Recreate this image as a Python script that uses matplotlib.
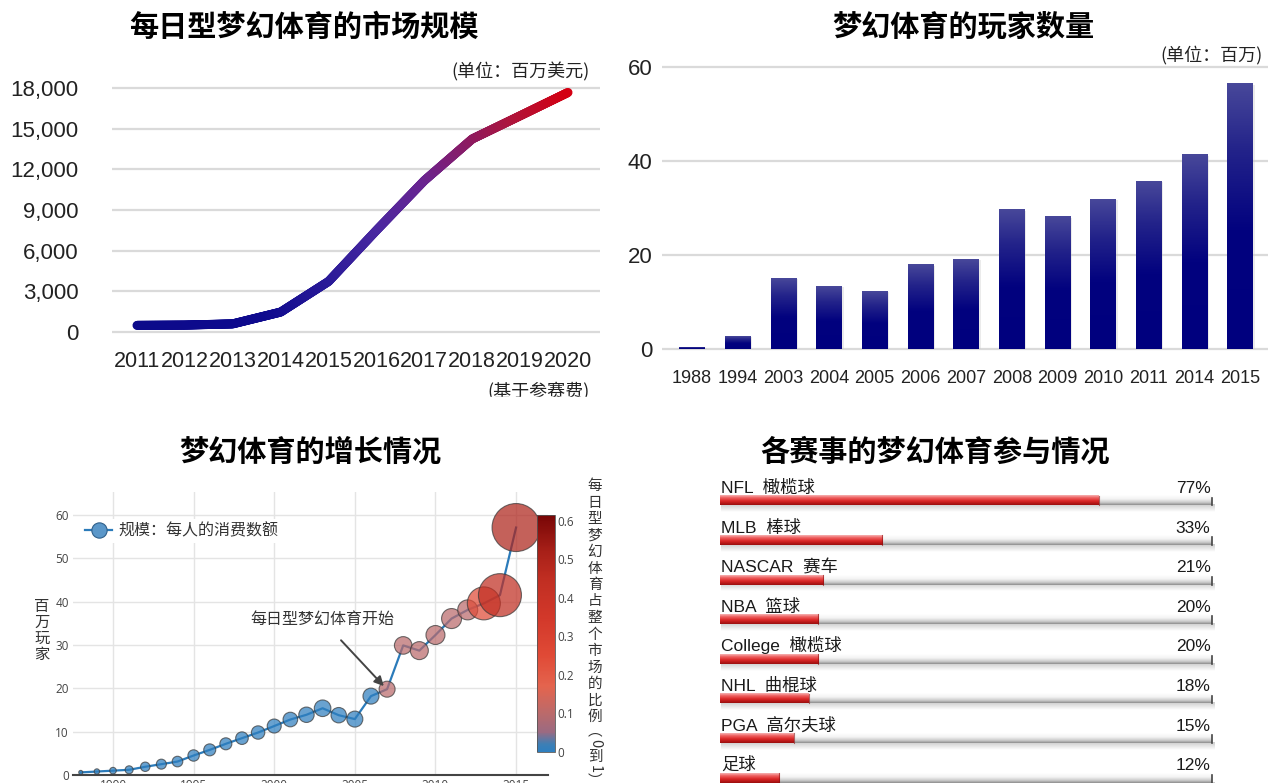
import numpy as np
import matplotlib
matplotlib.use('Agg')
import matplotlib.pyplot as plt
from matplotlib import font_manager as fm
from matplotlib.colors import LinearSegmentedColormap, Normalize
from matplotlib.collections import LineCollection
from matplotlib.lines import Line2D
from matplotlib.patches import Rectangle
import matplotlib.cm as cm

# ---------------- data ----------------
market_years = ['2011', '2012', '2013', '2014', '2015', '2016', '2017', '2018', '2019', '2020']
market_size = [490, 510, 600, 1470, 3730, 7500, 11170, 14240, 15950, 17670]

player_years = ['1988', '1994', '2003', '2004', '2005', '2006', '2007', '2008', '2009',
                '2010', '2011', '2014', '2015']
players = [0.4, 2.7, 15.1, 13.4, 12.3, 17.9, 19.1, 29.7, 28.1, 31.9, 35.7, 41.4, 56.4]

growth_years = list(range(1988, 2016))
growth_players = [0.6, 0.8, 1.0, 1.2, 1.9, 2.5, 3.1, 4.5, 5.8, 7.2, 8.5, 9.8, 11.3, 12.8,
                  13.9, 15.4, 13.8, 12.9, 18.2, 19.8, 29.9, 28.7, 32.3, 36.1, 38.1, 39.6,
                  41.5, 57.1]
growth_spend = [2.0, 2.7, 3.3, 4.0, 4.7, 5.0, 5.3, 5.7, 6.0, 6.0, 6.3, 6.7, 7.0, 7.3,
                7.7, 8.3, 7.7, 8.0, 8.0, 8.0, 8.8, 9.0, 9.5, 10.0, 10.0, 16.5, 21.5, 24.0]
growth_share = [0.0] * 19 + [0.1, 0.1, 0.1, 0.1, 0.1, 0.1, 0.25, 0.45, 0.5]

sport_labels = ['NFL  橄榄球', 'MLB  棒球', 'NASCAR  赛车', 'NBA  篮球', 'College  橄榄球',
                'NHL  曲棍球', 'PGA  高尔夫球', '足球']
sport_pct = [77, 33, 21, 20, 20, 18, 15, 12]

# ---------------- fonts ----------------
def has_font(name):
    try:
        fm.findfont(fm.FontProperties(family=name), fallback_to_default=False)
        return True
    except Exception:
        return False

CJK = 'Noto Sans CJK SC'
NARROW = 'Liberation Sans Narrow' if has_font('Liberation Sans Narrow') else 'Liberation Sans'
SANS = 'Liberation Sans'
OPEN = 'Open Sans' if has_font('Open Sans') else 'DejaVu Sans'
plt.rcParams['font.family'] = [CJK, 'DejaVu Sans']
plt.rcParams['axes.unicode_minus'] = False

W, H = 1275, 783
fig = plt.figure(figsize=(W / 100, H / 100), dpi=100)
fig.patch.set_facecolor('white')


def rect(x0, y0, x1, y1):
    return [x0 / W, 1 - y1 / H, (x1 - x0) / W, (y1 - y0) / H]


def fx(x):
    return x / W


def fy(y):
    return 1 - y / H


def set_tick_font(ax, fam):
    for lbl in ax.get_xticklabels() + ax.get_yticklabels():
        lbl.set_fontfamily(fam)


# ================= top-left: market size line =================
ax1 = fig.add_axes(rect(112, 80, 600, 340))
x1 = np.arange(len(market_years))
ax1.set_xlim(-25 / 47.9, 9 + 32 / 47.9)
ax1.set_ylim(-590, 18590)
ax1.set_yticks(range(0, 18001, 3000))
ax1.set_yticklabels([f'{v:,}' for v in range(0, 18001, 3000)])
ax1.set_xticks(x1)
ax1.set_xticklabels(market_years)
ax1.grid(axis='y', color='#dadada', lw=1.6)
ax1.set_axisbelow(True)
for s in ax1.spines.values():
    s.set_visible(False)
ax1.tick_params(axis='y', length=0, labelsize=16, pad=24, labelcolor='#222222')
ax1.tick_params(axis='x', length=0, labelsize=15.5, pad=8, labelcolor='#222222')
set_tick_font(ax1, [SANS, CJK])

line_cmap = LinearSegmentedColormap.from_list('ln', [
    (0.0, '#0c0a8a'), (0.3, '#0e0a8e'), (0.45, '#2a1a98'), (0.56, '#4a28a0'),
    (0.67, '#6a2490'), (0.78, '#8e1a60'), (0.88, '#b0143a'), (1.0, '#d40012')])
xs = np.linspace(0, len(market_years) - 1, 600)
ys = np.interp(xs, x1, market_size)
pts = np.column_stack([xs, ys])
segs = np.stack([pts[:-1], pts[1:]], axis=1)
lc = LineCollection(segs, colors=line_cmap(xs[:-1] / xs[-1]), linewidths=6.5,
                    capstyle='round', joinstyle='round', zorder=3)
ax1.add_collection(lc)

fig.text(fx(304), fy(27), '每日型梦幻体育的市场规模', ha='center', va='center',
         fontsize=21, fontweight='bold', family=[CJK])
fig.text(fx(590), fy(72), '(单位：百万美元)', ha='right', va='center', fontsize=13,
         family=[CJK], color='#222222')
fig.text(fx(590), fy(391), '(基于参赛费)', ha='right', va='center', fontsize=13,
         family=[CJK], color='#222222')
fig.patches.append(Rectangle((fx(400), fy(405)), fx(220), fy(397) - fy(405),
                             transform=fig.transFigure, color='white', zorder=10))

# ================= top-right: players bar =================
ax2 = fig.add_axes(rect(662, 60, 1268, 352))
x2 = np.arange(len(player_years))
bw = 0.56
bar_cmap = LinearSegmentedColormap.from_list('bar', [
    (0.0, '#00007e'), (0.45, '#02027f'), (0.75, '#23238a'), (1.0, '#48489a')])
grad = np.linspace(0, 1, 256).reshape(-1, 1)
for xi, v in zip(x2, players):
    ax2.add_patch(Rectangle((xi - bw / 2 + 0.04, 0), bw, v - 0.25, color='#c8c8c8',
                            alpha=0.35, lw=0, zorder=1.5))
    ax2.imshow(grad, extent=[xi - bw / 2, xi + bw / 2, 0, v], origin='lower',
               cmap=bar_cmap, aspect='auto', zorder=2, interpolation='bilinear')
ax2.set_xlim(-0.657, 12.61)
ax2.set_ylim(-0.64, 61.5)
ax2.set_yticks([0, 20, 40, 60])
ax2.set_xticks(x2)
ax2.set_xticklabels(player_years)
ax2.grid(axis='y', color='#dadada', lw=1.6)
ax2.set_axisbelow(True)
for s in ax2.spines.values():
    s.set_visible(False)
ax2.tick_params(axis='y', length=0, labelsize=16, pad=7, labelcolor='#222222')
ax2.tick_params(axis='x', length=0, labelsize=13, pad=13, labelcolor='#222222')
set_tick_font(ax2, [SANS, CJK])

fig.text(fx(963), fy(27), '梦幻体育的玩家数量', ha='center', va='center',
         fontsize=21, fontweight='bold', family=[CJK])
fig.text(fx(1263), fy(55), '(单位：百万)', ha='right', va='center', fontsize=13,
         family=[CJK], color='#222222')

# ================= bottom-left: growth bubble chart =================
ax3 = fig.add_axes(rect(73, 492, 548, 775))
ax3.set_xlim(1987.52, 2016.98)
ax3.set_ylim(0, 65.3)
ax3.set_xticks(range(1990, 2016, 5))
ax3.set_yticks(range(0, 61, 10))
ax3.grid(color='#e4e4e4', lw=1.0)
ax3.set_axisbelow(True)
for k in ['left', 'right', 'top']:
    ax3.spines[k].set_visible(False)
ax3.spines['bottom'].set_color('#444444')
ax3.spines['bottom'].set_linewidth(1.5)
ax3.tick_params(axis='both', length=0, labelsize=8.5, labelcolor='#444444')
ax3.tick_params(axis='y', pad=3)
ax3.tick_params(axis='x', pad=3)
set_tick_font(ax3, [OPEN, CJK])

vmax = 0.615
stops = [(0.0, '#2f7fbf'), (0.02, '#3d7fb5'), (0.05, '#9a6a82'), (0.1, '#bb6a6a'),
         (0.17, '#e4644e'), (0.25, '#e04a36'), (0.35, '#d2382a'), (0.45, '#c02e22'),
         (0.52, '#a82018'), (0.615, '#780606')]
bub_cmap = LinearSegmentedColormap.from_list('bub', [(v / vmax, c) for v, c in stops])
norm = Normalize(0, vmax)

ax3.plot(growth_years, growth_players, color='#2b7bba', lw=1.6, zorder=2)
sizes = (1.44 * np.array(growth_spend)) ** 2
ax3.scatter(growth_years, growth_players, s=sizes, c=growth_share, cmap=bub_cmap, norm=norm,
            alpha=0.72, edgecolors='#3a3a3a', linewidths=0.8, zorder=3, clip_on=False)

h = Line2D([0], [0], color='#2b7bba', lw=1.6, marker='o', markersize=11,
           markerfacecolor='#5b97c9', markeredgecolor='#2f5f8a', markeredgewidth=0.8)
leg = ax3.legend(handles=[h], labels=['规模：每人的消费数额'], loc='center left',
                 bbox_to_anchor=(fx(82), fy(531)), bbox_transform=fig.transFigure,
                 frameon=True, facecolor='white', edgecolor='none', framealpha=1,
                 borderpad=0.2, borderaxespad=0, handlelength=1.7, handletextpad=0.4,
                 prop={'family': [CJK], 'size': 11.5})
for t in leg.get_texts():
    t.set_color('#333333')

ax3.annotate('每日型梦幻体育开始', xy=(2006.8, 20.5), xytext=(2002.96, 35.8),
             textcoords='data', ha='center', va='center', fontsize=11.5, color='#333333',
             family=[CJK],
             arrowprops=dict(arrowstyle='-|>', color='#444444', lw=1.4, shrinkA=9,
                             shrinkB=0, mutation_scale=14))

for i, ch in enumerate('百万玩家'):
    fig.text(fx(42), fy(606 + 16 * i), ch, ha='center', va='center', fontsize=11,
             family=[CJK], color='#333333')

cax = fig.add_axes(rect(537, 515, 555, 752))
sm = cm.ScalarMappable(norm=norm, cmap=bub_cmap)
cb = fig.colorbar(sm, cax=cax)
cb.set_ticks([0, 0.1, 0.2, 0.3, 0.4, 0.5, 0.6])
cb.set_ticklabels(['0', '0.1', '0.2', '0.3', '0.4', '0.5', '0.6'])
cb.outline.set_edgecolor('#555555')
cb.outline.set_linewidth(0.6)
cax.tick_params(length=0, labelsize=8.5, labelcolor='#444444', pad=2)
for lbl in cax.get_yticklabels():
    lbl.set_fontfamily([OPEN, CJK])

ctitle = '每日型梦幻体育占整个市场的比例'
for i, ch in enumerate(ctitle):
    fig.text(fx(595), fy(486 + 16.5 * i), ch, ha='center', va='center', fontsize=10.5,
             family=[CJK], color='#333333')
tail = [('︵', 731, 0), ('0', 743, -90), ('到', 757, 0), ('1', 769, -90), ('︶', 781, 0)]
for ch, yy, rot in tail:
    fig.text(fx(595), fy(yy), ch, ha='center', va='center', fontsize=10.5, rotation=rot,
             family=[CJK], color='#333333')

fig.text(fx(310), fy(452), '梦幻体育的增长情况', ha='center', va='center',
         fontsize=21, fontweight='bold', family=[CJK])

# ================= bottom-right: participation bars =================
ax4 = fig.add_axes(rect(718, 470, 1216, 783))
ax4.axis('off')
hh = 0.125
track_cmap = LinearSegmentedColormap.from_list('trk', [
    (0.0, '#ffffff'), (0.4, '#f3f3f3'), (0.75, '#c9c9c9'), (1.0, '#8c8c8c')])
red_cmap = LinearSegmentedColormap.from_list('red', [
    (0.0, '#f6b4b4'), (0.25, '#ef6464'), (0.6, '#da2626'), (1.0, '#9a0e0e')])
g_tb = np.linspace(0, 1, 64).reshape(-1, 1)
shadow = np.zeros((32, 1, 4))
shadow[..., :3] = 0.55
shadow[:, 0, 3] = np.linspace(0.45, 0.0, 32)
for r, (lab, v) in enumerate(zip(sport_labels, sport_pct)):
    ax4.imshow(shadow, extent=[0.3, 100.6, r + hh + 0.17, r + hh - 0.01], aspect='auto',
               zorder=1, interpolation='bilinear')
    ax4.imshow(g_tb, extent=[0, 100, r + hh, r - hh], cmap=track_cmap, aspect='auto',
               zorder=2, interpolation='bilinear')
    ax4.imshow(g_tb, extent=[0, v, r + hh, r - hh], cmap=red_cmap, aspect='auto',
               zorder=3, interpolation='bilinear')
    ax4.plot([v, v], [r - hh, r + hh], color='#8a1010', lw=0.8, alpha=0.6, zorder=3.5)
    ax4.plot([100, 100], [r - hh * 0.6, r + hh], color='#444444', lw=1.2, zorder=4)
    ax4.text(0.3, r - 0.19, lab, ha='left', va='baseline', fontsize=12.5,
             family=[NARROW, CJK], color='#1a1a1a', zorder=5)
    ax4.text(99.7, r - 0.19, f'{v}%', ha='right', va='baseline', fontsize=12.5,
             family=[NARROW, CJK], color='#1a1a1a', zorder=5)
ax4.set_xlim(-2 / 4.92, 100 + 4 / 4.92)
ax4.set_ylim((783 - 500.5) / 39.6, (470 - 500.5) / 39.6)

fig.text(fx(935), fy(452), '各赛事的梦幻体育参与情况', ha='center', va='center',
         fontsize=21, fontweight='bold', family=[CJK])

fig.savefig('out.png', dpi=100, facecolor='white')
